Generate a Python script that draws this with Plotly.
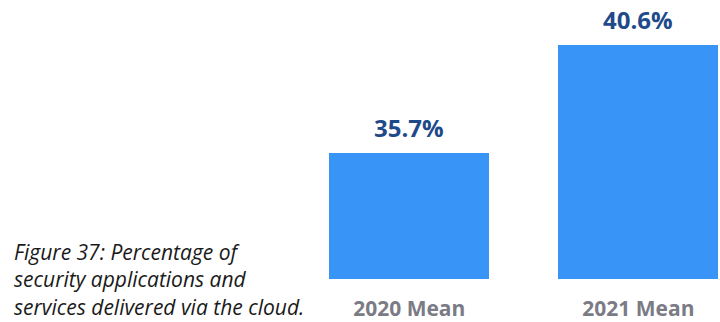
import plotly.graph_objects as go

# ============================================================================
# DATA
# ============================================================================

categories = ["2020 Mean", "2021 Mean"]
values = [35.7, 40.6]
value_labels = ["35.7%", "40.6%"]
caption_lines = [
    "Figure 37: Percentage of",
    "security applications and",
    "services delivered via the cloud.",
]

BAR_COLOR = "#3894f6"
VALUE_COLOR = "#1f4a8a"
TICK_COLOR = "#7b7b86"
FONT = "Open Sans"

# ============================================================================
# FIGURE
# ============================================================================

fig = go.Figure()

fig.add_trace(go.Bar(
    x=categories,
    y=values,
    width=0.698,
    marker=dict(color=BAR_COLOR, line=dict(width=0)),
    hoverinfo="skip",
))

for cat, val, lab in zip(categories, values, value_labels):
    fig.add_annotation(
        x=cat, y=val, xref="x", yref="y",
        text="<b>" + lab + "</b>",
        showarrow=False,
        yanchor="bottom",
        yshift=7,
        font=dict(family=FONT, size=24, color=VALUE_COLOR),
    )

fig.add_annotation(
    x=12 / 720, y=0, xref="paper", yref="paper",
    xanchor="left", yanchor="middle", yshift=0,
    align="left",
    text="<i>" + "<br>".join(caption_lines) + "</i>",
    showarrow=False,
    font=dict(family=FONT, size=21, color="#1a1a1a"),
)

fig.update_layout(
    width=720,
    height=322,
    margin=dict(l=0, r=0, t=0, b=43),
    paper_bgcolor="white",
    plot_bgcolor="white",
    showlegend=False,
    bargap=0,
    xaxis=dict(
        range=[-1.786, 1.356],
        automargin=False,
        showgrid=False,
        showline=False,
        zeroline=False,
        ticks="",
        ticklabelstandoff=15,
        tickfont=dict(family=FONT, size=21, color=TICK_COLOR, weight="bold"),
    ),
    yaxis=dict(
        range=[30, 42.62],
        automargin=False,
        visible=False,
        showgrid=False,
        zeroline=False,
    ),
)

fig.write_html(
    "out.html",
    config={"displayModeBar": False},
    post_script="document.body.style.margin='0';",
)
